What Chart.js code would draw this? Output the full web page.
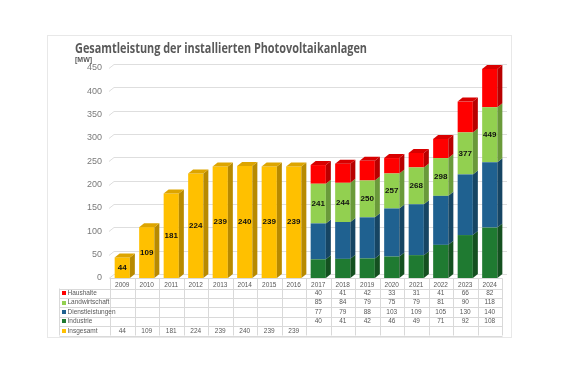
<!DOCTYPE html>
<html><head><meta charset="utf-8">
<script src="https://cdn.jsdelivr.net/npm/chart.js@4"></script>
<style>html,body{margin:0;padding:0;background:#fff;}#wrap{width:562px;height:374px;position:relative;}</style>
</head><body><div id="wrap"><canvas id="c" width="562" height="374"></canvas></div>
<script>
const years = ['2009','2010','2011','2012','2013','2014','2015','2016','2017','2018','2019','2020','2021','2022','2023','2024'];
const insgesamt = [44,109,181,224,239,240,239,239,null,null,null,null,null,null,null,null];
const industrie = [null,null,null,null,null,null,null,null,40,41,42,46,49,71,92,108];
const dienstleistungen = [null,null,null,null,null,null,null,null,77,79,88,103,109,105,130,140];
const landwirtschaft = [null,null,null,null,null,null,null,null,85,84,79,75,79,81,90,118];
const haushalte = [null,null,null,null,null,null,null,null,40,41,42,33,31,41,66,82];
const gesamtLabels = [44,109,181,224,239,240,239,239,241,244,250,257,268,298,377,449];
const yTicks = [0,50,100,150,200,250,300,350,400,450];

const DX = 5, DY = -4;
const series = [
  {label:'Insgesamt', data:insgesamt, front:'#FFC000', side:'#B88A00', top:'#DDA500'},
  {label:'Industrie', data:industrie, front:'#1F7A31', side:'#145020', top:'#1A6629'},
  {label:'Dienstleistungen', data:dienstleistungen, front:'#1F6190', side:'#164563', top:'#1B5478'},
  {label:'Landwirtschaft', data:landwirtschaft, front:'#92D050', side:'#6A9A3A', top:'#7FB845'},
  {label:'Haushalte', data:haushalte, front:'#FF0000', side:'#B80000', top:'#D80000'}
];
const tableRows = ['Haushalte','Landwirtschaft','Dienstleistungen','Industrie','Insgesamt'];

const grid3d = {
  id:'grid3d',
  beforeDatasetsDraw(chart){
    const {ctx, chartArea:a, scales:{y}} = chart;
    ctx.save();
    ctx.strokeStyle = '#DEDEDE'; ctx.lineWidth = 1;
    y.ticks.forEach(t=>{
      const py = Math.round(y.getPixelForValue(t.value)) + 0.5;
      ctx.beginPath();
      ctx.moveTo(a.left-1, py);
      ctx.lineTo(a.left+DX-1, py+DY);
      ctx.lineTo(a.right+DX, py+DY);
      ctx.stroke();
    });
    ctx.restore();
  }
};

const bars3d = {
  id:'bars3d',
  afterDatasetsDraw(chart){
    const {ctx} = chart;
    ctx.save();
    const topIdx = {};
    chart.data.datasets.forEach((ds,di)=>{
      ds.data.forEach((v,i)=>{ if(v!=null) topIdx[i]=di; });
    });
    chart.data.datasets.forEach((ds,di)=>{
      const meta = chart.getDatasetMeta(di);
      const s = series[di];
      meta.data.forEach((bar,i)=>{
        if(ds.data[i]==null) return;
        const p = bar.getProps(['x','y','base','width'], true);
        const l = p.x - p.width/2, r = p.x + p.width/2;
        const t = Math.min(p.y,p.base), b = Math.max(p.y,p.base);
        ctx.fillStyle = s.side;
        ctx.beginPath();
        ctx.moveTo(r,t); ctx.lineTo(r+DX,t+DY); ctx.lineTo(r+DX,b+DY); ctx.lineTo(r,b); ctx.closePath();
        ctx.fill();
        if(topIdx[i]===di){
          ctx.fillStyle = s.top;
          ctx.beginPath();
          ctx.moveTo(l,t); ctx.lineTo(l+DX,t+DY); ctx.lineTo(r+DX,t+DY); ctx.lineTo(r,t); ctx.closePath();
          ctx.fill();
        }
      });
    });
    ctx.font = 'bold 8px "Liberation Sans", Arial, sans-serif';
    ctx.fillStyle = '#111';
    ctx.textAlign = 'center'; ctx.textBaseline = 'middle';
    gesamtLabels.forEach((v,i)=>{
      const di = insgesamt[i]!=null ? 0 : 3;
      const bar = chart.getDatasetMeta(di).data[i];
      const p = bar.getProps(['x','y','base'], true);
      ctx.fillText(String(v), p.x, (p.y+p.base)/2);
    });
    ctx.restore();
  }
};

const extras = {
  id:'extras',
  beforeDraw(chart){
    const {ctx} = chart;
    ctx.save();
    ctx.fillStyle = '#fff'; ctx.fillRect(0,0,562,374);
    ctx.strokeStyle = '#E8E8E8'; ctx.lineWidth = 1;
    ctx.strokeRect(47.5,35.5,464,302);
    ctx.restore();
  },
  afterDraw(chart){
    const {ctx, chartArea:a, scales:{x}} = chart;
    ctx.save();
    ctx.fillStyle = '#595959';
    ctx.textBaseline = 'alphabetic'; ctx.textAlign = 'left';
    ctx.font = 'bold 14px "Open Sans", Lato, sans-serif';
    const title = 'Gesamtleistung der installierten Photovoltaikanlagen';
    const w = ctx.measureText(title).width;
    ctx.save();
    ctx.translate(75, 53);
    ctx.scale(292/w, 1);
    ctx.fillText(title, 0, 0);
    ctx.restore();
    ctx.font = 'bold 7px "Liberation Sans", Arial, sans-serif';
    ctx.fillText('[MW]', 75, 62);
    const catW = (x.right - x.left)/years.length;
    const top = a.bottom + 0.5, hdrBot = top + 10, rowH = 9.4;
    const tblLeft = 59.5, tblRight = x.right + 0.5;
    const bottom = hdrBot + rowH*tableRows.length;
    ctx.strokeStyle = '#D9D9D9'; ctx.lineWidth = 1;
    ctx.beginPath();
    ctx.moveTo(x.left, top); ctx.lineTo(tblRight, top);
    for(let r=0;r<=tableRows.length;r++){
      const yy = Math.round(hdrBot + rowH*r)+0.5;
      ctx.moveTo(tblLeft, yy); ctx.lineTo(tblRight, yy);
    }
    ctx.moveTo(tblLeft, hdrBot); ctx.lineTo(tblLeft, bottom);
    for(let i=0;i<=years.length;i++){
      const xx = Math.round(x.left + catW*i)+0.5;
      ctx.moveTo(xx, top); ctx.lineTo(xx, bottom);
    }
    ctx.stroke();
    const rowData = {Haushalte:haushalte, Landwirtschaft:landwirtschaft, Dienstleistungen:dienstleistungen, Industrie:industrie, Insgesamt:insgesamt};
    const rowColor = {Haushalte:series[4].front, Landwirtschaft:series[3].front, Dienstleistungen:series[2].front, Industrie:series[1].front, Insgesamt:series[0].front};
    ctx.font = '6.5px "Liberation Sans", Arial, sans-serif';
    ctx.textBaseline = 'middle';
    tableRows.forEach((name,r)=>{
      const cy = hdrBot + rowH*r + rowH/2;
      ctx.fillStyle = rowColor[name];
      ctx.fillRect(62, Math.round(cy-2), 4, 4);
      ctx.fillStyle = '#595959'; ctx.textAlign = 'left';
      ctx.fillText(name, 67.5, cy);
      ctx.textAlign = 'center';
      rowData[name].forEach((v,i)=>{
        if(v==null) return;
        ctx.fillText(String(v), x.getPixelForValue(i), cy);
      });
    });
    ctx.restore();
  }
};

new Chart(document.getElementById('c'), {
  type:'bar',
  data:{
    labels: years,
    datasets: series.map(s=>({label:s.label, data:s.data, backgroundColor:s.front, borderWidth:0, barPercentage:0.62, categoryPercentage:1.0}))
  },
  options:{
    responsive:false, animation:false,
    layout:{padding:{left:50, right:60, top:68, bottom:82}},
    plugins:{legend:{display:false}, title:{display:false}, tooltip:{enabled:false}},
    scales:{
      x:{stacked:true, grid:{display:false, drawTicks:false}, border:{display:false},
         ticks:{font:{size:6.5, family:'"Liberation Sans", Arial, sans-serif'}, color:'#595959', padding:3, maxRotation:0, autoSkip:false},
         afterFit(s){ s.height = 14; }},
      y:{stacked:true, min:0, max:450, grid:{display:false, drawTicks:false}, border:{display:false},
         afterBuildTicks(s){ s.ticks = yTicks.map(v=>({value:v})); },
         ticks:{font:{size:9, family:'"Liberation Sans", Arial, sans-serif'}, color:'#7A7A7A', padding:8},
         afterFit(s){ s.width = 60; }}
    }
  },
  plugins:[extras, grid3d, bars3d]
});
</script></body></html>
